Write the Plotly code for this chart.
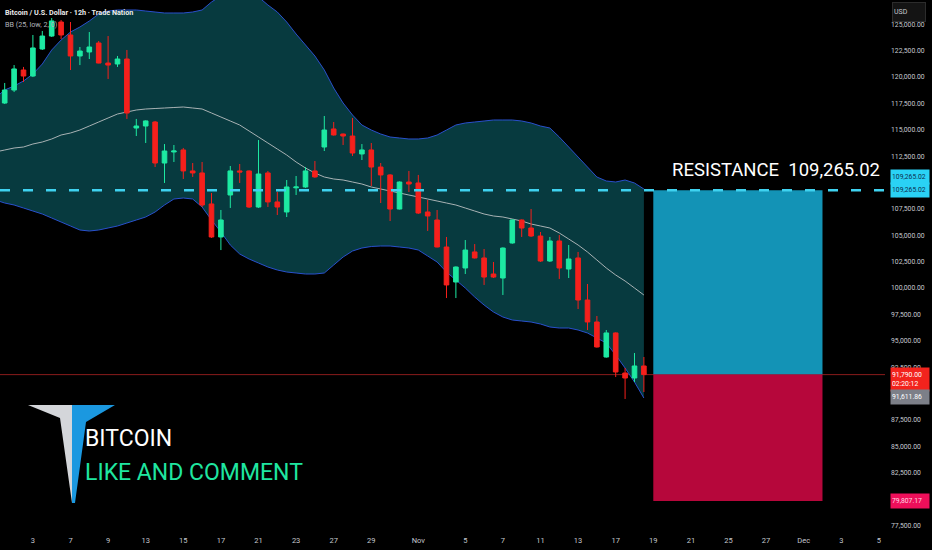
import plotly.graph_objects as go

# ---------------- data ----------------
bar_index = list(range(69))
open_ = [117540, 118770, 120670, 120100, 122660, 123890, 125220, 123990, 122000, 122380,
         123230, 121330, 121240, 121710, 115170, 115360, 115740, 111850, 112900, 113090,
         111100, 110910, 107970, 104840, 108820, 111100, 111100, 107680, 110910, 108160,
         107210, 109500, 109580, 111100, 113370, 115080, 114600, 114410, 112710, 113090,
         111470, 110720, 107490, 110050, 109960, 107210, 106450, 103890, 100570, 101900,
         103420, 102850, 101330, 100950, 104270, 106450, 105690, 104930, 102560, 104460,
         101800, 102850, 98860, 96780, 93460, 95740, 91940, 91470, 92610]
high = [119440, 121140, 120960, 123990, 124370, 125600, 125410, 125220, 122850, 124270,
        123420, 123890, 122000, 122570, 116030, 115900, 115840, 113650, 113560, 113280,
        111850, 111950, 109010, 107400, 111570, 111760, 111150, 114030, 111100, 109100,
        110240, 110620, 111470, 112040, 116310, 115740, 114650, 116120, 113650, 113750,
        111850, 110800, 110100, 111100, 110720, 108350, 107400, 104840, 102050, 104550,
        104170, 103700, 102470, 103850, 106500, 106500, 107490, 105310, 104840, 105030,
        104080, 103420, 100380, 97350, 96020, 95800, 92420, 93840, 93460]
low = [117450, 118580, 119530, 120000, 122570, 123800, 123610, 120670, 121140, 121710,
       121300, 119820, 120960, 116030, 114410, 113750, 111470, 109960, 111950, 110340,
       110530, 107680, 104750, 103600, 107590, 109960, 107590, 107600, 107680, 106920,
       106730, 108820, 109500, 110450, 112990, 114450, 113560, 112520, 112140, 109670,
       108060, 106350, 107450, 109100, 107020, 105410, 103850, 99050, 99050, 101330,
       102800, 100290, 100950, 99340, 104200, 104840, 104840, 102470, 102470, 100860,
       100950, 98010, 96020, 94350, 93400, 91560, 89480, 91090, 90140]
close = [118770, 120770, 120100, 122760, 123890, 125320, 123990, 122000, 122470, 122850,
         121330, 121140, 121710, 116590, 115360, 115840, 111850, 112990, 112990, 111100,
         110910, 107870, 104840, 106450, 111100, 111000, 107680, 110810, 108160, 107680,
         109580, 109580, 111100, 110530, 114980, 114510, 114410, 112800, 113090, 111470,
         110720, 107490, 110050, 109860, 107110, 106830, 103890, 100290, 101990, 103600,
         102850, 101040, 101040, 103790, 106450, 105690, 104930, 102560, 104460, 101900,
         102750, 98860, 96780, 94410, 95740, 92040, 91470, 92610, 91790]

band_index = list(range(-1, 69))
bb_upper = [118016, 118774, 119153, 119627, 120291, 121239, 122566, 123515, 124273, 124747,
            125316, 125980, 126264, 126359, 126359, 126359, 126264, 126169, 126074, 126074,
            126074, 126169, 126359, 127117, 127686, 128065, 128255, 128065, 127591, 126833,
            126169, 125221, 124083, 123041, 121998, 120670, 118964, 117542, 116404, 115456,
            114982, 114603, 114318, 114224, 114129, 114129, 114224, 114508, 114982, 115456,
            115646, 115740, 115835, 115930, 115930, 115930, 115835, 115646, 115361, 115171,
            114318, 113369, 112421, 111474, 110526, 110147, 110052, 110241, 109957, 109388]
bb_basis = [112896, 113085, 113275, 113369, 113654, 113844, 114129, 114508, 114698, 114982,
            115361, 115740, 116120, 116499, 116688, 116878, 116973, 117020, 117067, 117115,
            117162, 117067, 116973, 116594, 116214, 115835, 115456, 114887, 114318, 113749,
            113180, 112611, 111948, 111379, 110905, 110526, 110336, 110241, 110052, 109862,
            109578, 109388, 109199, 109009, 108819, 108629, 108440, 108250, 108060, 107871,
            107587, 107302, 107018, 106828, 106733, 106544, 106354, 106070, 105880, 105690,
            105216, 104648, 104079, 103415, 102656, 101898, 101234, 100665, 100002, 99338]
bb_lower = [108345, 108060, 107871, 107587, 107302, 107018, 106638, 106259, 105880, 105501,
            105406, 105501, 105690, 105880, 106164, 106449, 106733, 107207, 107871, 108440,
            108535, 108440, 107681, 106449, 105311, 104079, 103226, 102751, 102372, 101993,
            101709, 101519, 101424, 101329, 101329, 101424, 102182, 102941, 103510, 103794,
            103937, 103984, 103984, 103889, 103794, 103604, 103036, 102467, 101519, 100759,
            100002, 99148, 98390, 97726, 97252, 96967, 96872, 96778, 96588, 96303,
            96209, 96209, 96019, 95735, 95261, 94787, 93649, 92417, 91090, 89574]

tick_index = [3, 7, 11, 15, 19, 23, 27, 31, 35, 39, 44, 49, 53, 57, 61, 65, 69, 73, 77, 81, 85, 89, 93]
tick_text = ["3", "7", "9", "13", "15", "17", "21", "23", "27", "29", "Nov", "5", "7", "11",
             "13", "17", "19", "21", "25", "27", "Dec", "3", "5"]
price_ticks = [77500, 82500, 85000, 87500, 92500, 95000, 97500, 100000, 102500, 105000,
               107500, 112500, 115000, 117500, 120000, 122500, 125000]

resistance_price = 109265.02
last_price = 91790.00
bid_price = 91611.86
stop_price = 79807.17
position_start = 69
position_end = 87

# ---------------- styling ----------------
GREEN = "#1de9a2"
RED = "#f5201c"
BAND_FILL = "#073a3f"
BAND_LINE = "#2950cc"
BASIS_LINE = "#a8b2b4"
CYAN = "#3fd2f0"
AXIS_TXT = "#c5c8cf"
SMALL_FONT = "Roboto, Arial, sans-serif"
BIG_FONT = "Roboto, Arial, sans-serif"

W, H = 932, 550
ML, MR, MT, MB = 0, 47, 0, 20
PW, PH = W - ML - MR, H - MT - MB


def px(x, y):
    return x / PW, 1 - y / PH


def data_path(xs, ys, close_back=None):
    pts = list(zip(xs, ys))
    if close_back is not None:
        pts += list(zip(reversed(xs), reversed(close_back)))
    s = " ".join(("M" if i == 0 else "L") + f"{x},{y}" for i, (x, y) in enumerate(pts))
    return s + (" Z" if close_back is not None else "")


fig = go.Figure()
fig.add_trace(go.Candlestick(
    x=bar_index, open=open_, high=high, low=low, close=close,
    increasing=dict(line=dict(color=GREEN, width=1), fillcolor=GREEN),
    decreasing=dict(line=dict(color=RED, width=1), fillcolor=RED),
    whiskerwidth=0, hoverinfo="skip"))

shapes = []
# Bollinger band (drawn beneath the candles)
shapes.append(dict(type="path", xref="x", yref="y", path=data_path(band_index, bb_upper, bb_lower),
                   fillcolor=BAND_FILL, line=dict(width=0), layer="below"))
shapes.append(dict(type="path", xref="x", yref="y", path=data_path(band_index, bb_upper),
                   line=dict(color=BAND_LINE, width=1), layer="below"))
shapes.append(dict(type="path", xref="x", yref="y", path=data_path(band_index, bb_lower),
                   line=dict(color=BAND_LINE, width=1), layer="below"))
shapes.append(dict(type="path", xref="x", yref="y", path=data_path(band_index, bb_basis),
                   line=dict(color=BASIS_LINE, width=1), layer="below"))
# current price line
shapes.append(dict(type="line", xref="paper", yref="y", x0=0, x1=1, y0=last_price, y1=last_price,
                   line=dict(color="#8a1c1c", width=1), layer="below"))
# long position tool
shapes.append(dict(type="rect", xref="x", yref="y", x0=position_start, x1=position_end,
                   y0=last_price, y1=resistance_price, fillcolor="#1393b6", line=dict(width=0), layer="above"))
shapes.append(dict(type="rect", xref="x", yref="y", x0=position_start, x1=position_end,
                   y0=stop_price, y1=last_price, fillcolor="#b6073b", line=dict(width=0), layer="above"))
# resistance dashed line
shapes.append(dict(type="line", xref="paper", yref="y", x0=0, x1=1, y0=resistance_price, y1=resistance_price,
                   line=dict(color=CYAN, width=2.5, dash="10px,13px"), layer="above"))


def path(points):
    s = ""
    for i, (x, y) in enumerate(points):
        a, b = px(x, y)
        s += ("M" if i == 0 else "L") + f"{a:.5f},{b:.5f} "
    return s + "Z"


# logo
shapes.append(dict(type="path", xref="paper", yref="paper",
                   path=path([(28, 405), (72, 405), (72, 503), (60, 418)]),
                   fillcolor="#d4d6da", line=dict(width=0), layer="above"))
shapes.append(dict(type="path", xref="paper", yref="paper",
                   path=path([(72, 405), (115, 405), (86, 422), (75, 503), (72, 503)]),
                   fillcolor="#1b98e0", line=dict(width=0), layer="above"))

annotations = []


def txt(x, y, text, size, color, family=SMALL_FONT, xanchor="left"):
    a, b = px(x, y)
    annotations.append(dict(xref="paper", yref="paper", x=a, y=b, text=text, showarrow=False,
                            xanchor=xanchor, yanchor="middle",
                            font=dict(size=size, color=color, family=family)))


txt(3, 13, "<b>Bitcoin / U.S. Dollar · 12h · Trade Nation</b>", 7.2, "#ececec")
txt(3, 25, "BB (25, low, 2, 0)", 7.2, "#b0b3ba")
txt(670, 170, "RESISTANCE  109,265.02", 18.5, "#ffffff", BIG_FONT)
txt(83, 438, "BITCOIN", 23, "#ffffff", BIG_FONT)
txt(83, 472, "LIKE AND COMMENT", 23, "#1fe6a0", BIG_FONT)

# price-scale labels
px_label_x = 890 / PW


def price_box(price, text, bg, fg, yshift=0, h=12):
    annotations.append(dict(xref="paper", yref="y", x=px_label_x, y=price, text=text, showarrow=False,
                            xanchor="left", yanchor="middle", yshift=yshift, align="left",
                            bgcolor=bg, width=36, height=h, borderpad=1,
                            font=dict(size=6.8, color=fg, family=SMALL_FONT)))


price_box(resistance_price, f"{resistance_price:,.2f}", "#2ad2f5", "#0d3050", yshift=13)
price_box(resistance_price, f"{resistance_price:,.2f}", "#2ad2f5", "#0d3050")
price_box(last_price, f"{last_price:,.2f}<br>02:20:12", "#f2231d", "#ffffff", yshift=-5, h=21)
price_box(bid_price, f"{bid_price:,.2f}", "#7c7f88", "#ffffff", yshift=-21)
price_box(stop_price, f"{stop_price:,.2f}", "#ee0f5a", "#ffd6e2")

a, b = px(892, 12)
annotations.append(dict(xref="paper", yref="paper", x=a, y=b, text="USD", showarrow=False,
                        xanchor="left", yanchor="middle", align="left", width=30, height=16,
                        bgcolor="#141414", bordercolor="#2c2c2c", borderwidth=1, borderpad=1,
                        font=dict(size=7, color="#c5c8cf", family=SMALL_FONT)))

fig.update_layout(
    width=W, height=H,
    margin=dict(l=ML, r=MR, t=MT, b=MB),
    paper_bgcolor="#000000", plot_bgcolor="#000000",
    showlegend=False,
    shapes=shapes, annotations=annotations,
    xaxis=dict(range=[-0.5, 93.65], tickvals=tick_index, ticktext=tick_text,
               showgrid=False, zeroline=False, showline=False, ticks="",
               ticklabelstandoff=4,
               tickfont=dict(size=7.5, color=AXIS_TXT, family=SMALL_FONT),
               rangeslider=dict(visible=False), fixedrange=True),
    yaxis=dict(range=[77058, 127307], side="right", tickvals=price_ticks,
               ticktext=[f"{v:,.2f}" for v in price_ticks],
               showgrid=False, zeroline=False, showline=False, ticks="",
               ticklabelstandoff=5,
               tickfont=dict(size=6.8, color=AXIS_TXT, family=SMALL_FONT), fixedrange=True),
)

fig.write_html("out.html", config={"displayModeBar": False},
               post_script="document.body.style.margin='0';document.body.style.background='#000';")
